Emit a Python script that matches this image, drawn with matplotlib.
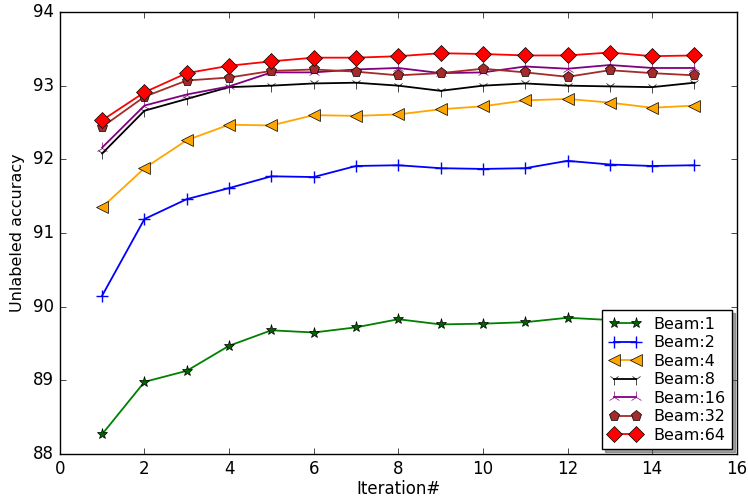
import matplotlib
matplotlib.use('Agg')
import matplotlib.pyplot as plt

plt.style.use('classic')

iterations = list(range(1, 16))

beam_1 = [88.27, 88.98, 89.13, 89.47, 89.68, 89.65, 89.72, 89.83, 89.76, 89.77,
          89.79, 89.85, 89.82, 89.82, 89.83]
beam_2 = [90.15, 91.19, 91.46, 91.61, 91.77, 91.76, 91.91, 91.92, 91.88, 91.87,
          91.88, 91.98, 91.93, 91.91, 91.92]
beam_4 = [91.35, 91.88, 92.26, 92.47, 92.46, 92.60, 92.59, 92.61, 92.68, 92.72,
          92.80, 92.82, 92.77, 92.70, 92.73]
beam_8 = [92.08, 92.66, 92.82, 92.98, 93.00, 93.03, 93.04, 93.00, 92.93, 93.00,
          93.03, 93.00, 92.99, 92.98, 93.04]
beam_16 = [92.16, 92.73, 92.88, 92.99, 93.18, 93.18, 93.22, 93.24, 93.17, 93.18,
           93.26, 93.23, 93.28, 93.24, 93.24]
beam_32 = [92.44, 92.85, 93.07, 93.11, 93.20, 93.22, 93.19, 93.14, 93.17, 93.23,
           93.18, 93.12, 93.21, 93.17, 93.14]
beam_64 = [92.53, 92.91, 93.17, 93.27, 93.33, 93.38, 93.38, 93.40, 93.44, 93.43,
           93.41, 93.41, 93.45, 93.40, 93.41]

fig = plt.figure(figsize=(7.48, 4.99), dpi=100, facecolor='white')
ax = fig.add_axes([0.080, 0.090, 0.905, 0.886])

lw = 1.3
ax.plot(iterations, beam_1, color='green', lw=lw, marker='*', markersize=8,
        markeredgecolor='black', markerfacecolor='darkgreen', label='Beam:1')
ax.plot(iterations, beam_2, color='blue', lw=lw, marker='+', markersize=9,
        markeredgewidth=1, label='Beam:2')
ax.plot(iterations, beam_4, color='orange', lw=lw, marker='<', markersize=8,
        markeredgecolor='black', label='Beam:4')
ax.plot(iterations, beam_8, color='black', lw=lw, marker='1', markersize=8,
        label='Beam:8')
ax.plot(iterations, beam_16, color='purple', lw=lw, marker='2', markersize=9,
        label='Beam:16')
ax.plot(iterations, beam_32, color='brown', lw=lw, marker='p', markersize=8,
        markeredgecolor='black', label='Beam:32')
ax.plot(iterations, beam_64, color='red', lw=lw, marker='D', markersize=8,
        markeredgecolor='black', label='Beam:64')

ax.set_xlim(0, 16)
ax.set_ylim(88, 94)
ax.set_xlabel('Iteration#', fontsize=12, labelpad=2)
ax.set_ylabel('Unlabeled accuracy', fontsize=11.5, labelpad=6)
ax.tick_params(labelsize=12)

leg = ax.legend(loc='lower right', shadow=True, fancybox=False, numpoints=2,
                fontsize=11.5, borderaxespad=0.3, handlelength=2.0,
                labelspacing=0.22)
leg.get_frame().set_edgecolor('black')

fig.savefig('out.png', dpi=100, facecolor='white')
